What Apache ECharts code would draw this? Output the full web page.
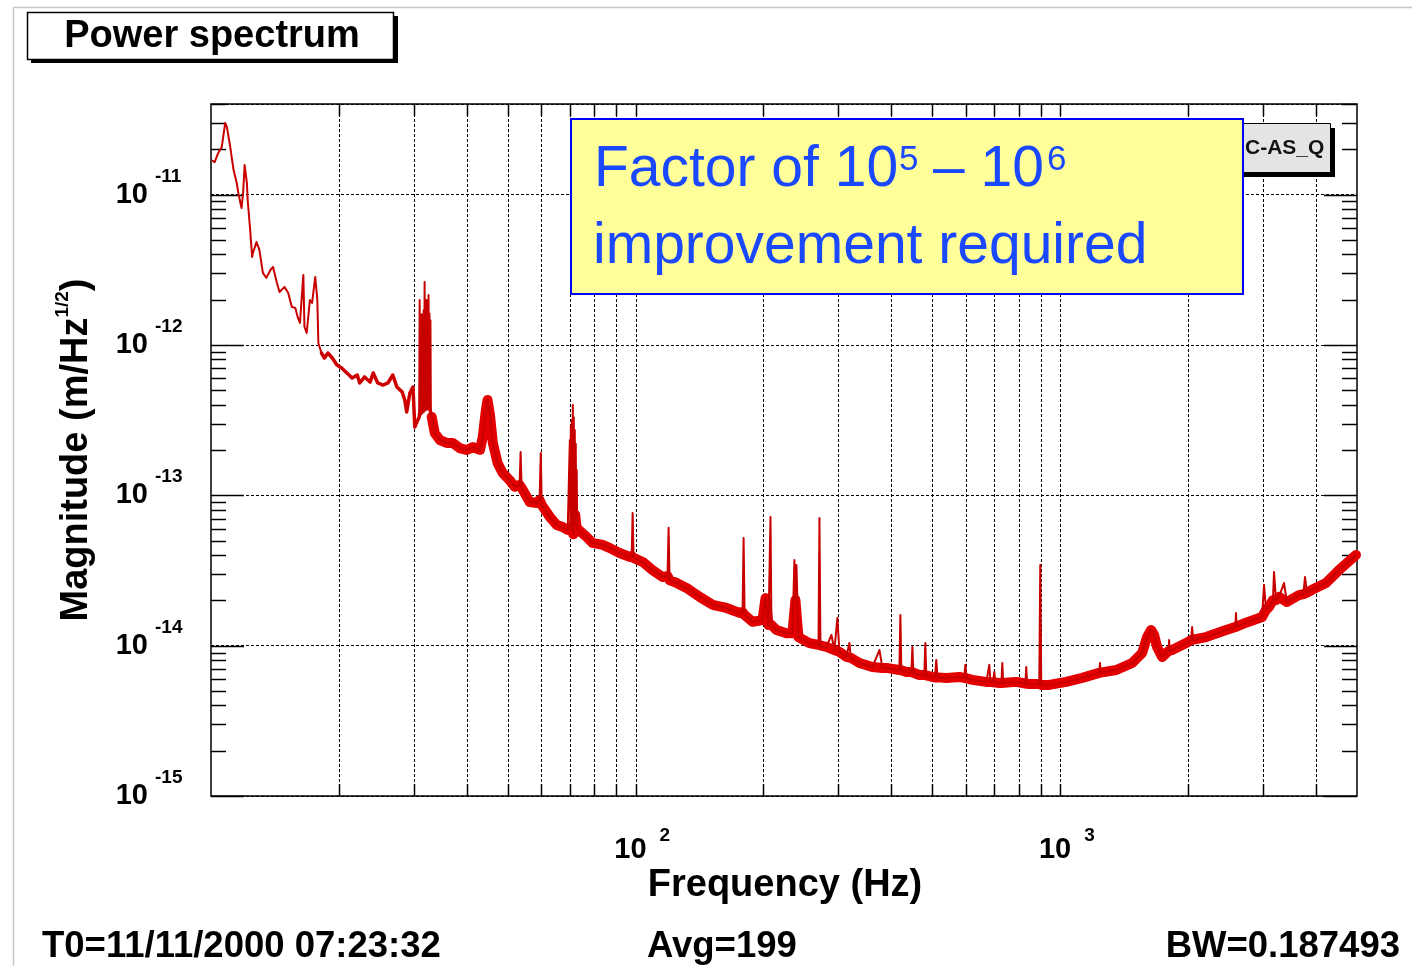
<!DOCTYPE html>
<html>
<head>
<meta charset="utf-8">
<script src="https://cdn.jsdelivr.net/npm/echarts@6/dist/echarts.min.js"></script>
<style>
  html, body { margin: 0; padding: 0; background: #ffffff; }
  #chart { width: 1412px; height: 966px; }
</style>
</head>
<body>
<div id="chart"></div>
<script>
// Spectrum trace, [frequency Hz, magnitude m/Hz^1/2]
// Low-frequency part (seismic / suspension region)
const lowTrace = [
  [10.05,1.69e-11],[10.2,1.64e-11],[10.4,1.89e-11],[10.6,2.07e-11],[10.8,2.99e-11],[10.9,2.81e-11],
  [11.1,2.07e-11],[11.3,1.46e-11],[11.5,1.19e-11],[11.6,1.02e-11],[11.8,8.13e-12],[11.9,1.02e-11],
  [12.0,1.57e-11],[12.15,1.19e-11],[12.2,9.19e-12],[12.35,6.08e-12],[12.5,3.84e-12],[12.55,4.08e-12],
  [12.8,4.83e-12],[13.0,4.28e-12],[13.25,3.01e-12],[13.5,2.79e-12],[13.8,3.15e-12],[14.0,3.30e-12],
  [14.3,2.58e-12],[14.5,2.25e-12],[14.9,2.43e-12],[15.2,2.21e-12],[15.5,1.79e-12],[15.8,1.76e-12],
  [16.0,1.53e-12],[16.2,1.40e-12],[16.5,2.92e-12],[16.6,1.32e-12],[16.8,1.20e-12],[17.1,1.99e-12],
  [17.3,1.90e-12],[17.6,2.83e-12],[17.8,1.99e-12],[17.9,1.03e-12],[18.2,8.83e-13],[18.5,8.18e-13],
  [18.85,8.83e-13],[19.3,8.18e-13],[19.8,7.35e-13],[20.3,7.02e-13],[20.9,6.50e-13],[21.5,6.03e-13],
  [22.1,6.31e-13],[22.4,5.58e-13],[23.0,6.12e-13],[23.7,5.66e-13],[24.1,6.50e-13],[24.7,5.58e-13],
  [25.4,5.41e-13],[26.1,5.58e-13],[26.8,6.31e-13],[27.4,5.25e-13],[28.2,4.86e-13],[28.6,4.30e-13],
  [28.9,3.58e-13],[29.4,4.79e-13],[29.9,5.25e-13],[30.2,2.84e-13],[30.7,3.17e-13],
  [30.92,3.30e-13],[31.08,3.70e-13],[31.25,3.50e-13],[31.42,3.90e-13],[31.6,3.60e-13],[31.77,4.00e-13],
  [31.94,3.70e-13],[32.1,4.30e-13],[32.28,3.80e-13],[32.45,3.70e-13],[32.62,4.00e-13],[32.78,3.90e-13],
  [32.95,3.50e-13]
];

// Noise floor, 33 Hz - 1 kHz
const midFloor = [
  [33.1,3.32e-13],[33.65,2.59e-13],[34.6,2.33e-13],[35.9,2.23e-13],[37.1,2.23e-13],[38.5,2.06e-13],
  [40.0,2.00e-13],[41.4,2.09e-13],[43.0,2.00e-13],[43.65,2.44e-13],[44.4,3.69e-13],[44.8,4.30e-13],
  [45.4,3.42e-13],[46.1,2.23e-13],[47.3,1.64e-13],[48.6,1.41e-13],[50.5,1.26e-13],[51.9,1.14e-13],
  [53.3,1.17e-13],[53.9,1.12e-13],[56.3,9.02e-14],[58.5,8.89e-14],[59.4,9.31e-14],[60.1,8.62e-14],
  [62.8,7.18e-14],[65.2,6.35e-14],[67.3,6.15e-14],[69.2,5.88e-14],
  [70.19,6.00e-14],[70.57,5.90e-14],[70.95,6.20e-14],[71.33,5.50e-14],[71.71,6.50e-14],[72.09,7.40e-14],
  [72.47,6.40e-14],[72.85,6.00e-14],
  [73.4,5.88e-14],[76.7,5.28e-14],[79.2,4.82e-14],[83.6,4.68e-14],[86.8,4.47e-14],
  [91.7,4.13e-14],[96.8,3.89e-14],[97.9,3.95e-14],[98.9,3.83e-14],[103.9,3.60e-14],[109.6,3.18e-14],
  [115.7,2.86e-14],[118.9,2.90e-14],[120.2,2.73e-14],[124.9,2.61e-14],[131.8,2.42e-14],[141.5,2.11e-14],
  [151.8,1.87e-14],[163.7,1.78e-14],[175.7,1.65e-14],[178.6,1.67e-14],[180.6,1.60e-14],[188.5,1.44e-14],
  [199.0,1.48e-14],[202.3,2.07e-14],[205.6,1.37e-14],[208.9,1.37e-14],[214.6,1.27e-14],[226.6,1.21e-14],
  [234.1,1.21e-14],[237.9,2.01e-14],[241.8,1.14e-14],[256.7,1.04e-14],[269.6,1.01e-14],[272.5,9.80e-15],
  [281.5,9.80e-15],[293.9,9.35e-15],[302.0,9.08e-15],[313.7,8.41e-15],[316.5,8.40e-15],[321.2,8.30e-15],
  [336.6,7.67e-15],[361.2,7.21e-15],[381.3,7.11e-15],[389.6,7.11e-15],[418.0,6.89e-15],[422.6,6.85e-15],
  [434.2,6.68e-15],[446.1,6.68e-15],[451.0,6.60e-15],[465.9,6.38e-15],[478.6,6.38e-15],[483.8,6.29e-15],
  [499.7,6.19e-15],[507,6.15e-15],[514,6.15e-15],[539.3,6.10e-15],[578.7,6.19e-15],[594,6.10e-15],
  [602,6.05e-15],[620.9,5.92e-15],[669.8,5.74e-15],[677,5.72e-15],[685,5.72e-15],[695,5.70e-15],
  [704,5.68e-15],[718.8,5.65e-15],[727,5.65e-15],[734,5.65e-15],[788.2,5.74e-15],[828,5.60e-15],
  [836,5.60e-15],[845.6,5.56e-15],[892.6,5.56e-15],[902.4,5.48e-15],[942.1,5.48e-15]
];

// Noise floor, 1 kHz - 5 kHz (shot-noise rise)
const highFloor = [
  [1033,5.74e-15],[1127,6.10e-15],[1235,6.59e-15],[1238,6.60e-15],[1245,6.65e-15],[1355,6.89e-15],
  [1477,7.67e-15],[1559,8.94e-15],[1602,1.14e-14],[1637,1.27e-14],[1664,1.18e-14],[1691,9.80e-15],
  [1738,8.41e-15],[1800,9.20e-15],[1810,9.20e-15],[1834,9.35e-15],[1980,1.04e-14],[2034,1.09e-14],
  [2056,1.09e-14],[2206,1.14e-14],[2458,1.27e-14],[2585,1.33e-14],[2603,1.34e-14],[2739,1.42e-14],
  [2988,1.55e-14],[3053,1.73e-14],[3103,1.81e-14],[3170,2.01e-14],[3223,2.01e-14],[3275,2.11e-14],
  [3420,1.95e-14],[3651,2.17e-14],[3740,2.20e-14],[3813,2.25e-14],[3916,2.35e-14],[4226,2.61e-14],
  [4535,3.18e-14],[4972,4.01e-14]
];

// Narrow lines standing above the floor (line harmonics, violin modes, calibration lines)
const peakLines = [
  [31.0,1.99e-12],[31.17,1.45e-12],[31.34,1.60e-12],[31.51,1.53e-12],[31.68,1.70e-12],[31.85,2.62e-12],
  [32.02,1.85e-12],[32.19,1.99e-12],[32.36,1.55e-12],[32.53,2.15e-12],[32.7,1.62e-12],[32.87,1.46e-12],
  [53.6,1.94e-13],[59.8,1.91e-13],
  [70.0,2.33e-13],[70.38,2.90e-13],[70.76,3.17e-13],[71.14,3.98e-13],[71.52,3.30e-13],[71.9,2.72e-13],
  [72.28,2.20e-13],[72.66,1.47e-13],
  [98.4,7.62e-14],[119.6,6.07e-14],[179.6,5.20e-14],[207.8,7.18e-14],[236.6,3.71e-14],
  [239.2,3.44e-14],[271.0,7.06e-14],[289.2,1.18e-14],[298.7,1.53e-14],[318.8,1.04e-14],[375.2,9.35e-15],
  [420.3,1.60e-14],[448.6,9.80e-15],[481.2,1.04e-14],[510.7,8.04e-15],[597.8,7.45e-15],[680.8,7.45e-15],
  [699.4,6.68e-15],[730.5,7.67e-15],[831.8,7.21e-15],[897.5,3.44e-14],[1241,7.67e-15],[1805,1.09e-14],
  [2045,1.33e-14],[2594,1.65e-14],[3020,2.54e-14],[3188,3.09e-14],[3365,2.61e-14],[3771,2.86e-14]
];

// Axis ranges and tick labels
const xRange = [10, 5000];
const yRange = [1e-15, 4e-11];
const xGridHz = [20,30,40,50,60,70,80,90,100,200,300,400,500,600,700,800,900,1000,2000,3000,4000];
const xTickExp = [2, 3];
const yTickExp = [-15, -14, -13, -12, -11];
const yMinorMult = [2, 3, 4, 5, 6, 7, 8, 9];

// Header / footer texts
const titleText = 'Power spectrum';
const channelName = 'C-AS_Q';
const xTitle = 'Frequency (Hz)';
const footer = ['T0=11/11/2000 07:23:32', 'Avg=199', 'BW=0.187493'];

const FONT = '"Liberation Sans", Arial, Helvetica, sans-serif';

// Full trace = floor + lines, ordered in frequency; the dense noise floor is also drawn as a band
const floorAll = lowTrace.concat(midFloor, highFloor);
const trace = floorAll.concat(peakLines).sort((a, b) => a[0] - b[0]);
const band = midFloor.concat(highFloor);
const lowBand = lowTrace.filter(p => p[0] >= 18).concat([midFloor[0]]);

const chart = echarts.init(document.getElementById('chart'), null, { renderer: 'canvas' });

chart.setOption({
  animation: false,
  backgroundColor: '#ffffff',
  grid: {
    left: 211, top: 104, width: 1146, height: 692,
    show: true, borderColor: '#000', borderWidth: 1.5, backgroundColor: 'transparent'
  },
  xAxis: {
    type: 'log', logBase: 10, min: xRange[0], max: xRange[1],
    axisLine: { show: false }, axisTick: { show: false },
    axisLabel: { show: false }, splitLine: { show: false }
  },
  yAxis: {
    type: 'log', logBase: 10, min: yRange[0], max: yRange[1],
    axisLine: { show: false }, axisTick: { show: false }, axisLabel: { show: false },
    splitLine: { show: true, lineStyle: { color: '#000', width: 1, type: [3, 2] } }
  },
  series: [
    {
      name: 'floor-low', type: 'line', data: lowBand, showSymbol: false, silent: true, z: 3,
      lineStyle: { color: '#d80000', width: 3.5, cap: 'round', join: 'round' }
    },
    {
      name: 'floor', type: 'line', data: band, showSymbol: false, silent: true, z: 3,
      lineStyle: { color: '#e20000', width: 10, cap: 'round', join: 'round' }
    },
    {
      name: channelName, type: 'line', data: trace, showSymbol: false, silent: true, z: 4,
      lineStyle: { color: '#c80000', width: 2, join: 'round' }
    }
  ]
});

// Decorations positioned through the axis scales
const X = f => chart.convertToPixel({ xAxisIndex: 0 }, f);
const Y = v => chart.convertToPixel({ yAxisIndex: 0 }, v);
const xL = X(xRange[0]), xR = X(xRange[1]);
const yT = Y(yRange[1]), yB = Y(yRange[0]);

const g = [];
const seg = (xa, ya, xb, yb, style, z) =>
  g.push({ type: 'line', silent: true, z: z, shape: { x1: xa, y1: ya, x2: xb, y2: yb }, style: style });
const txt = (x, y, text, size, opts) => {
  const o = Object.assign({ weight: 'bold', align: 'left', fill: '#000', z: 30 }, opts || {});
  g.push({
    type: 'text', x: x, y: y, z: o.z, silent: true,
    style: {
      text: text, fill: o.fill, fontSize: size, fontWeight: o.weight, fontFamily: FONT,
      align: o.align, textAlign: o.align, verticalAlign: 'middle', textVerticalAlign: 'middle'
    }
  });
};
const solid = { stroke: '#000', lineWidth: 1.5 };
const dotted = { stroke: '#000', lineWidth: 1, lineDash: [3, 2] };

// vertical grid and x ticks (bottom and top)
xGridHz.forEach(f => {
  const x = Math.round(X(f)) + 0.5;
  seg(x, yT, x, yB, dotted, 1);
  seg(x, yB, x, yB - 12, solid, 1);
  seg(x, yT, x, yT + 12, solid, 1);
});

// y ticks, both sides
yTickExp.forEach(e => {
  const y = Math.round(Y(Math.pow(10, e))) + 0.5;
  seg(xL, y, xL + 33, y, solid, 1);
  seg(xR, y, xR - 33, y, solid, 1);
  yMinorMult.forEach(m => {
    const v = m * Math.pow(10, e);
    if (v > yRange[1] * 1.0001) return;
    const ym = Math.round(Y(v)) + 0.5;
    seg(xL, ym, xL + 15, ym, solid, 1);
    seg(xR, ym, xR - 15, ym, solid, 1);
  });
});

// y tick labels 10^n
yTickExp.forEach(e => {
  const y = Y(Math.pow(10, e));
  txt(148, y, '10', 29, { align: 'right' });
  txt(155, y - 18, String(e), 19);
});

// x tick labels 10^n
xTickExp.forEach(e => {
  const x = X(Math.pow(10, e));
  txt(x + 11, 850, '10', 29, { align: 'right' });
  txt(x + 24, 836, String(e), 19);
});

// axis titles
txt(785, 886, xTitle, 38, { align: 'center' });
g.push({
  type: 'text', x: 77, y: 450, rotation: Math.PI / 2, z: 30, silent: true,
  style: {
    text: '{a|Magnitude (m/Hz}{s|1/2}{a|)}',
    align: 'center', textAlign: 'center', verticalAlign: 'middle', textVerticalAlign: 'middle',
    rich: {
      a: { fontSize: 38, fontWeight: 'bold', fontFamily: FONT, fill: '#000', lineHeight: 48 },
      s: { fontSize: 19, fontWeight: 'bold', fontFamily: FONT, fill: '#000', lineHeight: 19, verticalAlign: 'top' }
    }
  }
});

// footer statistics
txt(42, 947, footer[0], 36.5);
txt(647, 947, footer[1], 36.5);
txt(1400, 947, footer[2], 36.5, { align: 'right' });

// outer pad frame
seg(13, 7.5, 1412, 7.5, { stroke: '#c8c8c8', lineWidth: 1.5 }, 0);
seg(13.5, 7, 13.5, 966, { stroke: '#c8c8c8', lineWidth: 1.5 }, 0);

// title box with shadow
g.push({ type: 'rect', z: 25, silent: true, shape: { x: 31, y: 16, width: 367, height: 47 }, style: { fill: '#000' } });
g.push({ type: 'rect', z: 26, silent: true, shape: { x: 27.5, y: 12.5, width: 366, height: 47 },
  style: { fill: '#fff', stroke: '#000', lineWidth: 1.5 } });
txt(212, 37, titleText, 38, { align: 'center', z: 27 });

// legend box with shadow
g.push({ type: 'rect', z: 25, silent: true, shape: { x: 1190, y: 128, width: 145, height: 49 }, style: { fill: '#000' } });
g.push({ type: 'rect', z: 26, silent: true, shape: { x: 1185.5, y: 123.5, width: 145, height: 49 },
  style: { fill: '#e4e4e4', stroke: '#000', lineWidth: 1 } });
txt(1245, 148, channelName, 21, { z: 27, fill: '#111' });

// annotation box
const blue = '#1a48ff';
g.push({ type: 'rect', z: 40, silent: true, shape: { x: 571, y: 119, width: 672, height: 175 },
  style: { fill: '#ffff99', stroke: '#0000ff', lineWidth: 2 } });
txt(594, 170, 'Factor of 10', 57, { weight: 'normal', fill: blue, z: 41 });
txt(899, 160, '5', 35, { weight: 'normal', fill: blue, z: 41 });
txt(933, 170, '\u2013 10', 57, { weight: 'normal', fill: blue, z: 41 });
txt(1047, 160, '6', 35, { weight: 'normal', fill: blue, z: 41 });
txt(593, 247, 'improvement required', 57, { weight: 'normal', fill: blue, z: 41 });

chart.setOption({ graphic: { elements: g } });
</script>
</body>
</html>
